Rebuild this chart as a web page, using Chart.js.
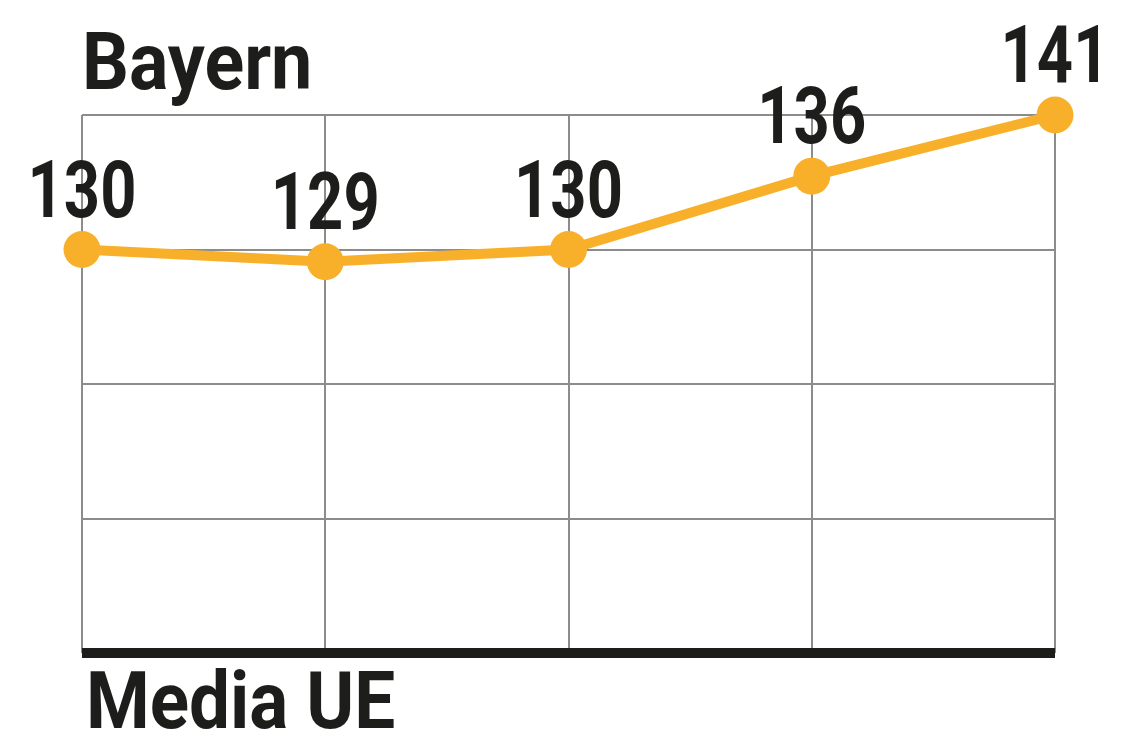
<!DOCTYPE html>
<html>
<head>
<meta charset="utf-8">
<script src="https://cdn.jsdelivr.net/npm/chart.js@4.4.1/dist/chart.umd.min.js"></script>
<style>
  html, body { margin: 0; padding: 0; background: #fff; }
  #wrap { width: 1135px; height: 735px; }
</style>
</head>
<body>
<div id="wrap"><canvas id="lineChart" width="1135" height="735"></canvas></div>
<script>
// data
const categories = ['1', '2', '3', '4', '5'];
const bayernValues = [130, 129, 130, 136, 141];
const yMin = 97;
const yMax = 141;
const yStep = 11;
const topLabel = 'Bayern';
const bottomLabel = 'Media UE';

const ink = '#1d1d1b';
const orange = '#f8b02a';
const gridGrey = '#8c8c8c';
const labelFont = 'bold 80px Roboto, "DejaVu Sans Condensed", sans-serif';

// squeeze text sideways, the original uses a narrow DIN-like face
function drawNarrow(ctx, text, x, y, sx) {
  ctx.save();
  ctx.translate(x, y);
  ctx.scale(sx, 1);
  ctx.fillText(text, 0, 0);
  ctx.restore();
}

// values above the points + the two captions
const labelsPlugin = {
  id: 'labels',
  afterDatasetsDraw(chart) {
    const ctx = chart.ctx;
    const area = chart.chartArea;
    const meta = chart.getDatasetMeta(0);
    ctx.save();
    ctx.fillStyle = ink;
    ctx.font = labelFont;
    ctx.textAlign = 'center';
    ctx.textBaseline = 'alphabetic';
    meta.data.forEach((pt, i) => {
      drawNarrow(ctx, String(bayernValues[i]), pt.x, pt.y - 33, 0.79);
    });
    ctx.textAlign = 'left';
    drawNarrow(ctx, topLabel, area.left, area.top - 26, 0.92);
    drawNarrow(ctx, bottomLabel, area.left + 4, area.bottom + 75, 0.91);
    ctx.restore();
  }
};

const ctx = document.getElementById('lineChart').getContext('2d');
const chart = new Chart(ctx, {
  type: 'line',
  data: {
    labels: categories,
    datasets: [{
      data: bayernValues,
      borderColor: orange,
      backgroundColor: orange,
      borderWidth: 10,
      pointRadius: 18.5,
      pointHoverRadius: 18.5,
      pointBorderWidth: 0,
      tension: 0,
      clip: false
    }]
  },
  options: {
    responsive: false,
    animation: false,
    events: [],
    layout: {
      padding: { left: 82, right: 80, top: 115, bottom: 82 }
    },
    plugins: {
      legend: { display: false },
      title: { display: false },
      tooltip: { enabled: false }
    },
    scales: {
      x: {
        offset: false,
        ticks: { display: false },
        border: { display: false },
        grid: { color: gridGrey, lineWidth: 2, drawTicks: false }
      },
      y: {
        min: yMin,
        max: yMax,
        ticks: { display: false, stepSize: yStep },
        border: { display: false },
        grid: {
          drawTicks: false,
          color: c => (c.tick && c.tick.value === yMin ? ink : gridGrey),
          lineWidth: c => (c.tick && c.tick.value === yMin ? 10 : 2)
        }
      }
    }
  },
  plugins: [labelsPlugin]
});
</script>
</body>
</html>
